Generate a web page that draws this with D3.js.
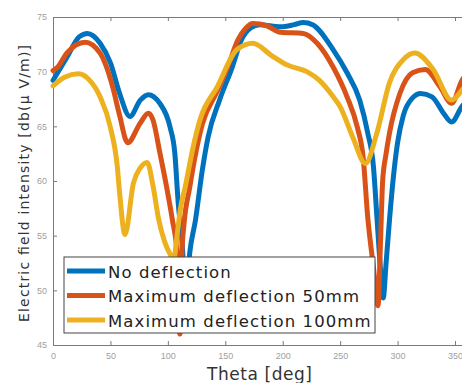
<!DOCTYPE html>
<html>
<head>
<meta charset="utf-8">
<script src="https://cdn.jsdelivr.net/npm/d3@7"></script>
<style>
  body { margin: 0; background: #fff; }
  svg { display: block; }
</style>
</head>
<body>
<div class="board"></div>
<script>
// values (theta in deg, intensity in db(uV/m))
const noDeflTheta = [0, 12, 23, 30, 41, 50, 58, 67, 76, 83, 93, 102, 106, 109, 113, 115, 119, 124, 130, 135, 145, 156, 164, 172, 180, 198, 210, 218, 226, 244, 256, 267, 274, 279, 282, 285, 287.5, 290, 293, 296, 300, 305, 313, 320, 330, 340, 347, 356, 360];
const noDeflValue = [69.2, 71.3, 73.2, 73.5, 72.6, 70.8, 68.0, 65.9, 67.4, 67.9, 67.1, 64.9, 62.6, 58.0, 53.4, 48.5, 53.4, 56.4, 61.0, 64.0, 67.4, 70.4, 72.9, 74.0, 74.3, 74.1, 74.3, 74.5, 74.3, 72.0, 69.9, 67.4, 64.4, 61.3, 56.7, 52.1, 49.3, 52.5, 56.5, 60.0, 63.5, 66.0, 67.6, 68.0, 67.7, 66.2, 65.4, 66.8, 67.3];

const defl50Theta = [0, 4, 12, 28, 41, 52, 58, 65, 76, 83, 87, 93, 99, 104, 108, 110.5, 112, 114, 119, 124, 130, 143, 152, 161, 168, 174, 186, 198, 218, 230, 244, 256, 265, 270, 274, 279, 283, 285, 287, 290, 293, 302, 313, 324, 337, 347, 356, 360];
const defl50Value = [70.1, 70.4, 71.7, 72.7, 71.7, 68.6, 66.0, 63.5, 65.3, 66.2, 65.6, 62.6, 59.4, 56.4, 53.4, 46.0, 53.0, 56.0, 59.4, 62.4, 65.2, 68.2, 70.4, 72.9, 74.0, 74.4, 74.2, 73.6, 73.5, 72.6, 70.4, 67.7, 64.9, 62.2, 56.7, 52.1, 48.6, 54.0, 60.0, 62.5, 64.4, 68.0, 69.9, 70.2, 68.6, 67.1, 69.2, 69.8];

const defl100Theta = [0, 10, 22, 32, 41, 50, 56, 58, 62.7, 70, 76, 82, 87, 92, 97, 102, 105, 108, 111, 115, 122, 128, 143, 160, 174, 190, 204, 221, 232, 244, 250, 261, 272, 282, 293, 305, 315, 331, 347, 356, 360];
const defl100Value = [68.7, 69.5, 69.8, 69.2, 67.7, 64.9, 61.3, 58.9, 55.1, 59.8, 61.2, 61.7, 59.6, 56.5, 54.5, 53.3, 52.8, 55.0, 57.5, 59.4, 63.1, 65.6, 68.6, 72.0, 72.6, 71.5, 70.6, 70.0, 69.2, 67.7, 66.8, 64.0, 61.6, 64.4, 69.0, 71.1, 71.7, 70.2, 67.4, 68.3, 68.8];

const seriesNames = ['No deflection', 'Maximum deflection 50mm', 'Maximum deflection 100mm'];
const seriesColors = ['#0072BD', '#D95319', '#EDB120'];
const xTicks = [0, 50, 100, 150, 200, 250, 300, 350];
const yTicks = [45, 50, 55, 60, 65, 70, 75];

const width = 462, height = 383;

const svg = d3.select('.board')
  .append('svg')
    .attr('width', width)
    .attr('height', height);

const x = d3.scaleLinear().domain([0, 360]).range([53, 53 + 360 * 1.1486]);
const y = d3.scaleLinear().domain([45, 75]).range([345, 17]);

// axes
const axisColor = '#7a7a7a';
const tickFont = '"Liberation Sans", Arial, sans-serif';

const gx = svg.append('g')
  .attr('transform', `translate(0,${y(45)})`)
  .call(d3.axisBottom(x).tickValues(xTicks).tickSizeInner(-4).tickSizeOuter(0).tickPadding(8));

const gxTop = svg.append('g')
  .attr('transform', `translate(0,${y(75)})`)
  .call(d3.axisTop(x).tickValues(xTicks).tickSizeInner(-4).tickSizeOuter(0).tickFormat(''));

const gy = svg.append('g')
  .attr('transform', `translate(${x(0)},0)`)
  .call(d3.axisLeft(y).tickValues(yTicks).tickSizeInner(-4).tickSizeOuter(0).tickPadding(6));

[gx, gxTop, gy].forEach(g => {
  g.select('.domain').attr('stroke', axisColor);
  g.selectAll('.tick line').attr('stroke', axisColor);
  g.selectAll('.tick text')
    .attr('fill', '#a0a0a0')
    .style('font-family', tickFont)
    .style('font-size', '9px');
});

// lines
const series = [
  { theta: noDeflTheta, value: noDeflValue },
  { theta: defl50Theta, value: defl50Value },
  { theta: defl100Theta, value: defl100Value }
];

const line = d3.line()
  .x(d => x(d[0]))
  .y(d => y(d[1]))
  .curve(d3.curveMonotoneX);

series.forEach((s, i) => {
  const pts = s.theta.map((t, j) => [t, s.value[j]]);
  svg.append('path')
    .datum(pts)
    .attr('fill', 'none')
    .attr('stroke', seriesColors[i])
    .attr('stroke-width', 5)
    .attr('stroke-linejoin', 'round')
    .attr('stroke-linecap', 'round')
    .attr('d', line);
});

// legend
const legend = svg.append('g');
legend.append('rect')
  .attr('x', 64).attr('y', 257)
  .attr('width', 311).attr('height', 76)
  .attr('fill', '#fff')
  .attr('stroke', '#444')
  .attr('stroke-width', 1);

seriesNames.forEach((name, i) => {
  const cy = 271 + i * 24.5;
  legend.append('line')
    .attr('x1', 67).attr('x2', 105)
    .attr('y1', cy).attr('y2', cy)
    .attr('stroke', seriesColors[i])
    .attr('stroke-width', 5);
  legend.append('text')
    .attr('x', 108)
    .attr('y', cy + 6.5)
    .attr('fill', '#222')
    .style('font-family', '"DejaVu Sans", sans-serif')
    .style('font-size', '16.5px')
    .style('letter-spacing', '1.1px')
    .text(name);
});

// axis titles
svg.append('text')
  .attr('transform', `translate(29,183.5) rotate(-90)`)
  .attr('text-anchor', 'middle')
  .attr('fill', '#333')
  .attr('textLength', 277)
  .attr('lengthAdjust', 'spacing')
  .style('font-family', '"DejaVu Sans", sans-serif')
  .style('font-size', '14px')
  .text('Electric field intensity [db(\u03bc V/m)]');

svg.append('text')
  .attr('x', 259.5)
  .attr('y', 380)
  .attr('text-anchor', 'middle')
  .attr('fill', '#333')
  .attr('textLength', 105)
  .attr('lengthAdjust', 'spacing')
  .style('font-family', '"DejaVu Sans", sans-serif')
  .style('font-size', '17px')
  .text('Theta [deg]');
</script>
</body>
</html>
